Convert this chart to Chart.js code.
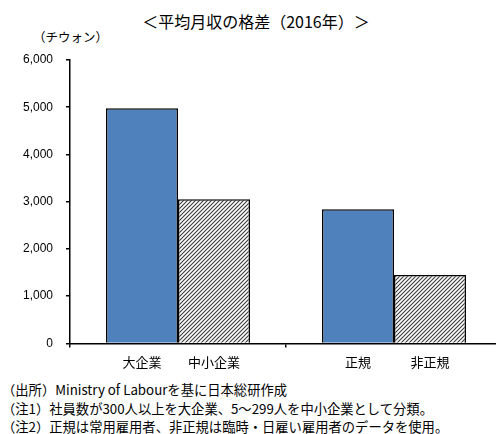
<!DOCTYPE html>
<html lang="ja">
<head>
<meta charset="utf-8">
<script src="https://cdn.jsdelivr.net/npm/chart.js@4/dist/chart.umd.min.js"></script>
<style>
    html, body { margin: 0; padding: 0; background: #fff; overflow: hidden; width: 496px; height: 434px; }
    body { position: relative; font-family: 'Noto Sans CJK JP', sans-serif; color: #000; }
    #title { position: absolute; top: 10px; left: 0; width: 512px; text-align: center; font-size: 16px; line-height: 22px; }
    #unit { position: absolute; top: 29px; left: 33px; font-size: 12.5px; line-height: 16px; }
    #wrap { position: absolute; top: 0; left: 0; width: 504px; height: 380px; }
    #notes { position: absolute; top: 381px; left: 2px; font-size: 13.3px; line-height: 18.5px; white-space: nowrap; }
</style>
</head>
<body>
<div id="title">＜平均月収の格差（2016年）＞</div>
<div id="unit">（チウォン）</div>
<div id="wrap"><canvas id="chart" width="504" height="380"></canvas></div>
<div id="notes">
    （出所）Ministry of Labourを基に日本総研作成<br>
    （注1）社員数が300人以上を大企業、5～299人を中小企業として分類。<br>
    （注2）正規は常用雇用者、非正規は臨時・日雇い雇用者のデータを使用。
</div>
<script>
// data (千ウォン)
const groups = ['企業規模', '雇用形態'];
const barLabels = ['大企業', '中小企業', '正規', '非正規'];
const upperValues = [4980, 2840];   // 大企業, 正規
const lowerValues = [3050, 1450];   // 中小企業, 非正規
const yTicks = [0, 1000, 2000, 3000, 4000, 5000, 6000];

const CAT_PCT = 2 / 3;

// diagonal hatch for the second series
function makeHatch() {
    const c = document.createElement('canvas');
    c.width = 4; c.height = 4;
    const g = c.getContext('2d');
    g.fillStyle = '#fff';
    g.fillRect(0, 0, 4, 4);
    g.strokeStyle = '#3a3a3a';
    g.lineWidth = 1.1;
    g.beginPath();
    g.moveTo(-1, 5); g.lineTo(5, -1);
    g.moveTo(-1, 1); g.lineTo(1, -1);
    g.moveTo(3, 5); g.lineTo(5, 3);
    g.stroke();
    return g.createPattern(c, 'repeat');
}

// bar centres in category index units (2 datasets per group)
const barCenters = [];
groups.forEach((g, i) => {
    barCenters.push(i - CAT_PCT / 4, i + CAT_PCT / 4);
});

const ctx = document.getElementById('chart').getContext('2d');
new Chart(ctx, {
    type: 'bar',
    data: {
        labels: groups,
        datasets: [
            {
                label: '大企業・正規',
                data: upperValues,
                backgroundColor: '#4F81BD',
                borderColor: '#000',
                borderWidth: 1.5
            },
            {
                label: '中小企業・非正規',
                data: lowerValues,
                backgroundColor: makeHatch(),
                borderColor: '#000',
                borderWidth: 1.5
            }
        ]
    },
    options: {
        responsive: false,
        animation: false,
        categoryPercentage: CAT_PCT,
        barPercentage: 1,
        layout: { padding: { top: 60, left: 17, right: 2, bottom: 3 } },
        plugins: {
            legend: { display: false },
            tooltip: { enabled: false }
        },
        scales: {
            x: {
                type: 'category',
                offset: true,
                grid: { offset: true, drawOnChartArea: false, drawTicks: true, tickLength: 4, color: '#000', lineWidth: 1.5 },
                border: { color: '#000', width: 1.5 },
                ticks: { display: false }
            },
            x2: {
                type: 'linear',
                position: 'bottom',
                weight: 1,
                offset: false,
                min: -0.5,
                max: groups.length - 0.5,
                grid: { display: false, drawTicks: false, offset: false },
                border: { display: false },
                afterBuildTicks: (axis) => {
                    axis.ticks = barCenters.map(v => ({ value: v }));
                },
                ticks: {
                    autoSkip: false,
                    maxRotation: 0,
                    padding: 7,
                    color: '#000',
                    font: { family: "'Noto Sans CJK JP', sans-serif", size: 13 },
                    callback: (v, i) => barLabels[i]
                }
            },
            y: {
                min: 0,
                max: 6000,
                afterBuildTicks: (axis) => {
                    axis.ticks = yTicks.map(v => ({ value: v }));
                },
                afterFit: (axis) => { axis.width = 53; },
                grid: { drawOnChartArea: false, drawTicks: true, tickLength: 4, color: '#000', lineWidth: 1.5 },
                border: { color: '#000', width: 1.5 },
                ticks: {
                    padding: 13,
                    color: '#000',
                    font: { family: "'Liberation Sans', Arial, sans-serif", size: 12 },
                    callback: (v) => v.toLocaleString('en-US')
                }
            }
        }
    }
});
</script>
</body>
</html>
